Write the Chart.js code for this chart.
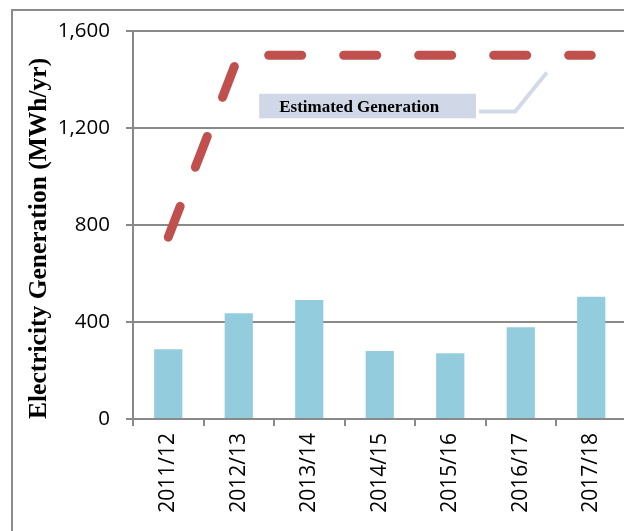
<!DOCTYPE html>
<html>
<head>
<meta charset="utf-8">
<script src="https://cdn.jsdelivr.net/npm/chart.js@4"></script>
<style>
  html, body { margin: 0; padding: 0; background: #fff; overflow: hidden; }
  #wrap { width: 624px; height: 531px; overflow: hidden; position: relative; }
  canvas { display: block; }
</style>
</head>
<body>
<div id="wrap"><canvas id="chart" width="640" height="531"></canvas></div>
<script>
// Financial years on the category axis
const years = ['2011/12', '2012/13', '2013/14', '2014/15', '2015/16', '2016/17', '2017/18'];
// Metered generation per year (MWh/yr)
const actualGeneration = [288, 436, 491, 280, 271, 378, 504];
// Estimated generation profile (MWh/yr)
const estimatedGeneration = [750, 1500, 1500, 1500, 1500, 1500, 1500];
// Value-axis ticks
const yTickValues = [0, 400, 800, 1200, 1600];

const axisTitle = 'Electricity Generation (MWh/yr)';
const noteText = 'Estimated Generation';

const GRID = '#898989';

// Callout box and its leader line, placed in axis units (category index, MWh/yr)
const note = {
  from: 1.29, to: 4.365, top: 1341, bottom: 1240,
  textInset: 20,
  leader: [[4.41, 1268], [4.92, 1268], [5.37, 1429]]
};

const framePlugin = {
  id: 'frame',
  beforeDraw(chart) {
    const ctx = chart.ctx;
    ctx.save();
    ctx.fillStyle = '#ffffff';
    ctx.fillRect(0, 0, chart.width, chart.height);
    ctx.strokeStyle = '#8c8c8c';
    ctx.lineWidth = 2;
    ctx.strokeRect(12, 10, chart.width + 40, chart.height + 40);
    ctx.restore();
  }
};

const notePlugin = {
  id: 'note',
  afterDatasetsDraw(chart) {
    const { ctx, scales: { x, y } } = chart;
    const left = x.getPixelForValue(note.from);
    const right = x.getPixelForValue(note.to);
    const top = y.getPixelForValue(note.top);
    const bottom = y.getPixelForValue(note.bottom);
    ctx.save();
    // leader line
    ctx.strokeStyle = '#d3dae7';
    ctx.lineWidth = 4;
    ctx.lineJoin = 'miter';
    ctx.beginPath();
    note.leader.forEach(([i, v], k) => {
      const px = x.getPixelForValue(i), py = y.getPixelForValue(v);
      if (k === 0) ctx.moveTo(px, py); else ctx.lineTo(px, py);
    });
    ctx.stroke();
    // box
    ctx.fillStyle = '#d0d7e6';
    ctx.fillRect(left, top, right - left, bottom - top);
    ctx.fillStyle = '#000000';
    ctx.font = 'bold 17px "Liberation Serif"';
    ctx.textBaseline = 'alphabetic';
    ctx.textAlign = 'left';
    ctx.fillText(noteText, left + note.textInset, bottom - 6);
    ctx.restore();
  }
};

new Chart(document.getElementById('chart'), {
  data: {
    labels: years,
    datasets: [
      {
        type: 'line',
        data: estimatedGeneration,
        borderColor: '#c0504d',
        borderWidth: 9,
        borderDash: [33, 42],
        borderCapStyle: 'round',
        borderJoinStyle: 'round',
        pointRadius: 0,
        tension: 0,
        fill: false,
        order: 0
      },
      {
        type: 'bar',
        data: actualGeneration,
        backgroundColor: '#93cddd',
        barPercentage: 0.4,
        categoryPercentage: 1,
        order: 1
      }
    ]
  },
  options: {
    responsive: false,
    animation: false,
    devicePixelRatio: 1,
    layout: { padding: { left: 0, top: 31, right: 13.5, bottom: 0 } },
    plugins: { legend: { display: false }, tooltip: { enabled: false } },
    scales: {
      x: {
        offset: true,
        grid: { display: true, drawOnChartArea: false, drawTicks: true, tickLength: 7, color: GRID, lineWidth: 2, offset: true },
        border: { display: true, color: GRID, width: 2 },
        ticks: {
          minRotation: 90, maxRotation: 90, autoSkip: false, padding: 7,
          color: '#000000',
          font: { family: 'Open Sans', size: 21 }
        },
        afterFit(s) { s.height = 112; }
      },
      y: {
        min: 0,
        max: 1600,
        afterBuildTicks(s) { s.ticks = yTickValues.map(v => ({ value: v })); },
        grid: { color: GRID, lineWidth: 2, tickLength: 7 },
        border: { display: true, color: GRID, width: 2 },
        ticks: {
          padding: 16,
          color: '#000000',
          font: { family: 'Open Sans', size: 20.5 },
          callback: v => Number(v).toLocaleString('en-US')
        },
        title: {
          display: true,
          text: axisTitle,
          align: 'start',
          color: '#000000',
          padding: { top: 24, bottom: 0 },
          font: { family: 'Liberation Serif', size: 25.5, weight: 'bold' }
        },
        afterFit(s) { s.width = 133; }
      }
    }
  },
  plugins: [framePlugin, notePlugin]
});
</script>
</body>
</html>
